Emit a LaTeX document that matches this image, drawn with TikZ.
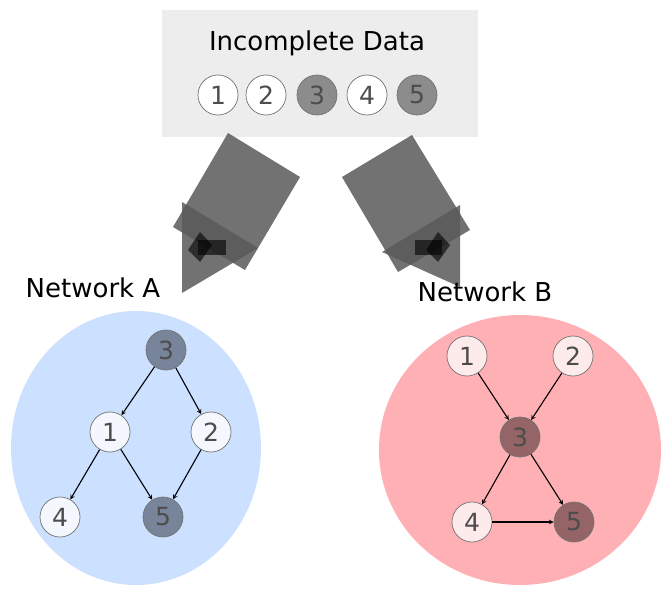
\documentclass[tikz,border=0pt]{standalone}
\usepackage{fontspec}
\setmainfont{DejaVu Sans}
\definecolor{bgA}{HTML}{CCE0FF}
\definecolor{bgB}{HTML}{FFB0B5}
\definecolor{dA}{HTML}{77849A}
\definecolor{lA}{HTML}{F4F7FD}
\definecolor{dB}{HTML}{946466}
\definecolor{lB}{HTML}{FDEBEC}
\begin{document}
\begin{tikzpicture}[x=1pt,y=-1pt,
  nd/.style={circle,draw=black!55,line width=0.7pt,minimum size=40pt,inner sep=0pt,font=\fontsize{25}{27}\selectfont,text=black!70},
  lt/.style={nd,fill=white},
  dk/.style={nd,fill=black!45},
  ar/.style={-stealth,line width=1.1pt},
  blk/.style={fill=black!65,fill opacity=0.85,draw=none},
  lbl/.style={font=\fontsize{26}{28}\selectfont}]
\useasboundingbox (0,0) rectangle (672,594);
\fill[black!7] (162,10) rectangle (478,137);
\node[lbl] (title) at (317,43) {Incomplete Data};
\node[lt] (d1) at (218,95) {1};
\node[lt] (d2) at (266,95) {2};
\node[dk] (d3) at (317,95) {3};
\node[lt] (d4) at (367,95) {4};
\node[dk] (d5) at (417,95) {5};
% broken arrows
\fill[blk] (228,133) -- (300,177) -- (245,270) -- (173,227) -- cycle;
\fill[blk] (182,202) -- (182,293) -- (258,248) -- cycle;
\fill[black,opacity=0.6] (200,232) -- (212,245) -- (200,262) -- (188,250) -- cycle;
\fill[black,opacity=0.6] (198,240) rectangle (226,255);
\fill[blk] (412,135) -- (470,230) -- (398,272) -- (342,177) -- cycle;
\fill[blk] (460,205) -- (460,287) -- (382,252) -- cycle;
\fill[black,opacity=0.6] (438,232) -- (450,245) -- (438,262) -- (426,250) -- cycle;
\fill[black,opacity=0.6] (415,240) rectangle (442,255);
\node[lbl] (la) at (93,288) {Network A};
\node[lbl] (lb) at (485,292) {Network B};
% Network A
\fill[bgA] (136,448) ellipse [x radius=125,y radius=137];
\node[nd,fill=dA] (a3) at (166,350) {3};
\node[nd,fill=lA] (a1) at (110,432) {1};
\node[nd,fill=lA] (a2) at (211,432) {2};
\node[nd,fill=lA] (a4) at (60,517) {4};
\node[nd,fill=dA] (a5) at (163,517) {5};
\draw[ar] (a3)--(a1); \draw[ar] (a3)--(a2); \draw[ar] (a1)--(a4);
\draw[ar] (a1)--(a5); \draw[ar] (a2)--(a5);
% Network B
\fill[bgB] (520,450) ellipse [x radius=141,y radius=135];
\node[nd,fill=lB] (b1) at (467,356) {1};
\node[nd,fill=lB] (b2) at (573,356) {2};
\node[nd,fill=dB] (b3) at (520,437) {3};
\node[nd,fill=lB] (b4) at (472,522) {4};
\node[nd,fill=dB] (b5) at (574,522) {5};
\draw[ar] (b1)--(b3); \draw[ar] (b2)--(b3); \draw[ar] (b3)--(b4);
\draw[ar] (b3)--(b5); \draw[ar] (b4)--(b5);
\end{tikzpicture}
\end{document}
